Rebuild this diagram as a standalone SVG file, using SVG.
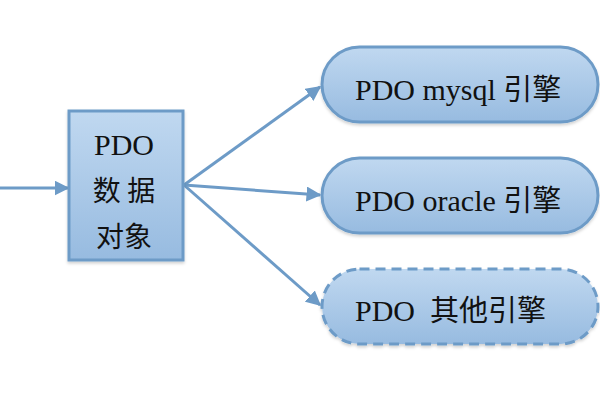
<svg xmlns="http://www.w3.org/2000/svg" width="600" height="400" viewBox="0 0 600 400">
<defs>
<linearGradient id="g" x1="0" y1="0" x2="0" y2="1">
<stop offset="0" stop-color="#c0d8f0"/>
<stop offset="1" stop-color="#97bbe0"/>
</linearGradient>
<marker id="ah" viewBox="0 0 10 10" refX="9" refY="5" markerWidth="5" markerHeight="5" orient="auto" markerUnits="strokeWidth">
<path d="M0,0 L10,5 L0,10 z" fill="#6d9bc7"/>
</marker>
<filter id="sh" x="-10%" y="-10%" width="120%" height="130%">
<feDropShadow dx="0" dy="2" stdDeviation="1.5" flood-color="#000" flood-opacity="0.18"/>
</filter>
</defs>
<style>
.node{fill:url(#g);stroke:#6d9bc7;stroke-width:3;filter:url(#sh)}
.dash{stroke-dasharray:10 6}
.lat{font-family:'Liberation Serif','DejaVu Serif',serif;font-size:30px;fill:#111}
.cjk{font-family:'Noto Sans CJK SC',sans-serif;font-size:29px;fill:#111}
.cjkb{font-family:'Noto Sans CJK SC',sans-serif;font-size:28px;fill:#111}
.edge{stroke:#6d9bc7;stroke-width:3;fill:none;marker-end:url(#ah)}
</style>
<rect width="600" height="400" fill="#fff"/>
<g id="connectors">
<line class="edge" x1="0" y1="188" x2="68" y2="188"/>
<line class="edge" x1="184" y1="185" x2="320" y2="87"/>
<line class="edge" x1="184" y1="185" x2="320" y2="195"/>
<line class="edge" x1="184" y1="185" x2="320" y2="305"/>
</g>
<g id="pdo">
<rect class="node" x="69" y="111" width="114" height="149"/>
<text class="lat" x="124" y="155" text-anchor="middle" font-family="Liberation Serif, serif">PDO</text>
<text class="cjkb" x="124" y="201" text-anchor="middle" font-family="Noto Sans CJK SC, sans-serif">数 据</text>
<text class="cjkb" x="124" y="247" text-anchor="middle" font-family="Noto Sans CJK SC, sans-serif">对象</text>
</g>
<g id="mysql">
<rect class="node" x="322" y="47" width="276" height="75" rx="37.5"/>
<text x="355" y="100"><tspan class="lat" font-family="Liberation Serif, serif">PDO mysql </tspan><tspan class="cjk" font-family="Noto Sans CJK SC, sans-serif">引擎</tspan></text>
</g>
<g id="oracle">
<rect class="node" x="322" y="158" width="276" height="75" rx="37.5"/>
<text x="355" y="211"><tspan class="lat" font-family="Liberation Serif, serif">PDO oracle </tspan><tspan class="cjk" font-family="Noto Sans CJK SC, sans-serif">引擎</tspan></text>
</g>
<g id="other">
<rect class="node dash" x="322" y="269" width="276" height="75" rx="37.5"/>
<text x="355" y="321" xml:space="preserve"><tspan class="lat" font-family="Liberation Serif, serif">PDO  </tspan><tspan class="cjk" font-family="Noto Sans CJK SC, sans-serif">其他引擎</tspan></text>
</g>
</svg>
